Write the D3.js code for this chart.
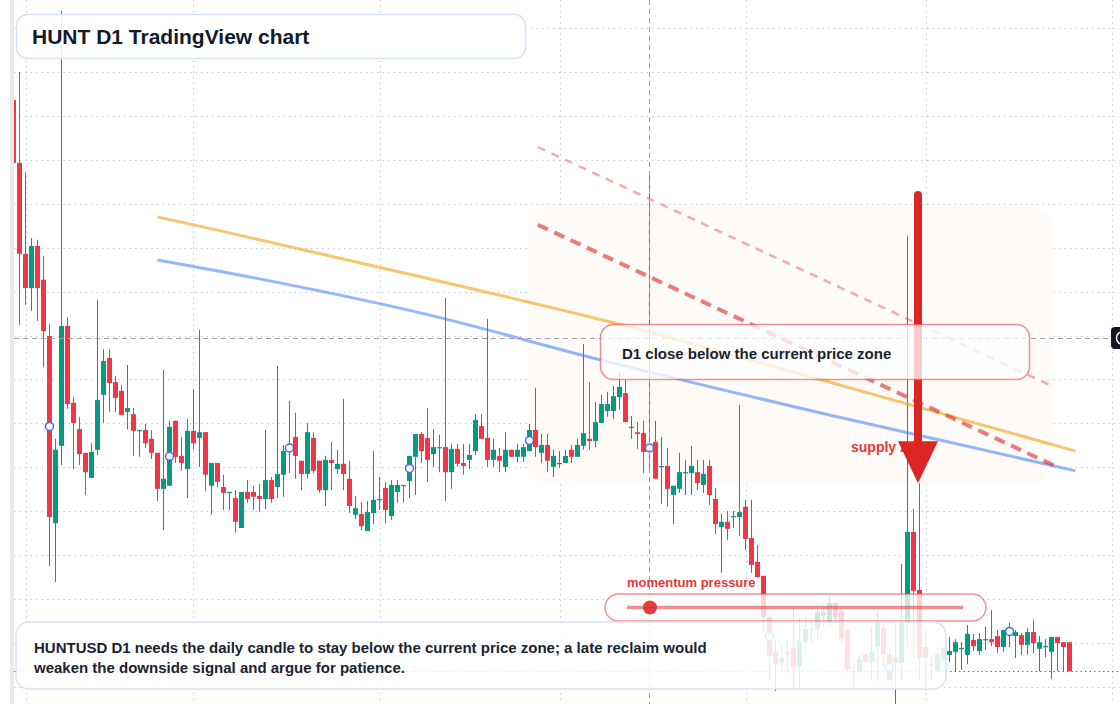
<!DOCTYPE html>
<html>
<head>
<meta charset="utf-8">
<script src="https://cdn.jsdelivr.net/npm/d3@7"></script>
<style>
  html, body { margin: 0; padding: 0; background: #fff; }
  svg { display: block; font-family: "Liberation Sans", Arial, sans-serif; }
</style>
</head>
<body>
<div id="chart"></div>
<script>
// daily candles, first one is 30 Jan 2025
const startDate = Date.UTC(2025, 0, 30)
const DAY = 864e5

const open = [
  0.3536, 0.3393, 0.3186, 0.3108, 0.3204, 0.3127, 0.2999, 0.2573, 0.2749, 0.3022,
  0.2847, 0.2787, 0.2733, 0.2676, 0.2740, 0.2865, 0.2949, 0.2894, 0.2874, 0.2826,
  0.2821, 0.2783, 0.2785, 0.2765, 0.2733, 0.2651, 0.2658, 0.2806, 0.2726, 0.2696,
  0.2783, 0.2767, 0.2780, 0.2658, 0.2710, 0.2655, 0.2642, 0.2630, 0.2562, 0.2644,
  0.2644, 0.2635, 0.2628, 0.2671, 0.2655, 0.2683, 0.2735, 0.2769, 0.2715, 0.2685,
  0.2767, 0.2715, 0.2648, 0.2717, 0.2696, 0.2708, 0.2674, 0.2592, 0.2594, 0.2555,
  0.2596, 0.2626, 0.2653, 0.2589, 0.2644, 0.2660, 0.2669, 0.2724, 0.2776, 0.2767,
  0.2730, 0.2745, 0.2746, 0.2689, 0.2742, 0.2710, 0.2717, 0.2737, 0.2794, 0.2767,
  0.2717, 0.2726, 0.2701, 0.2740, 0.2724, 0.2724, 0.2737, 0.2785, 0.2733, 0.2751,
  0.2701, 0.2709, 0.2710, 0.2740, 0.2724, 0.2749, 0.2765, 0.2760, 0.2801, 0.2828,
  0.2828, 0.2860, 0.2869, 0.2791, 0.2780, 0.2778, 0.2735, 0.2758, 0.2702, 0.2703,
  0.2637, 0.2651, 0.2688, 0.2687, 0.2689, 0.2660, 0.2703, 0.2628, 0.2564, 0.2576,
  0.2588, 0.2587, 0.2610, 0.2539, 0.2485, 0.2453, 0.2359, 0.2280, 0.2255, 0.2280,
  0.2289, 0.2246, 0.2302, 0.2331, 0.2332, 0.2371, 0.2348, 0.2391, 0.2373, 0.2332,
  0.2235, 0.2234, 0.2275, 0.2257, 0.2291, 0.2334, 0.2273, 0.2255, 0.2255, 0.2346,
  0.2553, 0.2421, 0.2291, 0.2252, 0.2236, 0.2261, 0.2273, 0.2280, 0.2288, 0.2273,
  0.2307, 0.2282, 0.2308, 0.2309, 0.2316, 0.2291, 0.2323, 0.2316, 0.2318, 0.2296,
  0.2325, 0.2287, 0.2292, 0.2280, 0.2314, 0.2302, 0.2302
]
const high = [
  0.3541, 0.3600, 0.3372, 0.3222, 0.3218, 0.3181, 0.3026, 0.2765, 0.3739, 0.3042,
  0.2860, 0.2815, 0.2733, 0.2755, 0.3081, 0.2969, 0.2969, 0.2908, 0.2887, 0.2933,
  0.2835, 0.2785, 0.2799, 0.2785, 0.2733, 0.2922, 0.2806, 0.2806, 0.2769, 0.2810,
  0.2878, 0.3013, 0.2780, 0.2710, 0.2710, 0.2683, 0.2644, 0.2648, 0.2644, 0.2671,
  0.2658, 0.2662, 0.2785, 0.2678, 0.2931, 0.2751, 0.2851, 0.2824, 0.2715, 0.2801,
  0.2780, 0.2715, 0.2726, 0.2758, 0.2740, 0.2856, 0.2715, 0.2635, 0.2621, 0.2623,
  0.2737, 0.2678, 0.2667, 0.2671, 0.2671, 0.2660, 0.2726, 0.2776, 0.2780, 0.2835,
  0.2787, 0.2774, 0.3086, 0.2753, 0.2753, 0.2753, 0.2753, 0.2821, 0.2821, 0.3038,
  0.2765, 0.2744, 0.2780, 0.2740, 0.2753, 0.2753, 0.2799, 0.2881, 0.2776, 0.2776,
  0.2740, 0.2737, 0.2740, 0.2751, 0.2765, 0.2981, 0.2894, 0.2849, 0.2865, 0.2872,
  0.2885, 0.2917, 0.2899, 0.2817, 0.2803, 0.2806, 0.3366, 0.2806, 0.2769, 0.2744,
  0.2658, 0.2733, 0.2717, 0.2749, 0.2717, 0.2717, 0.2717, 0.2653, 0.2594, 0.2601,
  0.2601, 0.2842, 0.2626, 0.2626, 0.2523, 0.2453, 0.2364, 0.2307, 0.2296, 0.2307,
  0.2380, 0.2357, 0.2357, 0.2346, 0.2384, 0.2382, 0.2409, 0.2391, 0.2380, 0.2332,
  0.2255, 0.2273, 0.2275, 0.2337, 0.2373, 0.2353, 0.2291, 0.2348, 0.2480, 0.3227,
  0.2605, 0.2664, 0.2330, 0.2268, 0.2289, 0.2291, 0.2314, 0.2309, 0.2302, 0.2341,
  0.2321, 0.2323, 0.2337, 0.2375, 0.2330, 0.2330, 0.2346, 0.2330, 0.2323, 0.2334,
  0.2353, 0.2316, 0.2309, 0.2314, 0.2314, 0.2302, 0.2302
]
const low = [
  0.3388, 0.3024, 0.3070, 0.3056, 0.3033, 0.2928, 0.2475, 0.2439, 0.2705, 0.2833,
  0.2696, 0.2705, 0.2637, 0.2676, 0.2728, 0.2801, 0.2826, 0.2826, 0.2819, 0.2787,
  0.2726, 0.2724, 0.2744, 0.2719, 0.2623, 0.2557, 0.2658, 0.2710, 0.2692, 0.2630,
  0.2740, 0.2701, 0.2646, 0.2592, 0.2655, 0.2603, 0.2603, 0.2551, 0.2562, 0.2619,
  0.2603, 0.2598, 0.2605, 0.2619, 0.2630, 0.2633, 0.2687, 0.2674, 0.2648, 0.2674,
  0.2687, 0.2642, 0.2612, 0.2648, 0.2685, 0.2648, 0.2596, 0.2582, 0.2557, 0.2555,
  0.2571, 0.2603, 0.2573, 0.2580, 0.2619, 0.2619, 0.2630, 0.2637, 0.2710, 0.2667,
  0.2701, 0.2689, 0.2623, 0.2651, 0.2701, 0.2683, 0.2696, 0.2728, 0.2765, 0.2701,
  0.2701, 0.2689, 0.2689, 0.2724, 0.2712, 0.2712, 0.2737, 0.2724, 0.2710, 0.2689,
  0.2678, 0.2699, 0.2710, 0.2710, 0.2724, 0.2740, 0.2740, 0.2746, 0.2801, 0.2815,
  0.2810, 0.2831, 0.2803, 0.2765, 0.2742, 0.2687, 0.2694, 0.2674, 0.2617, 0.2610,
  0.2571, 0.2642, 0.2637, 0.2637, 0.2648, 0.2642, 0.2614, 0.2548, 0.2460, 0.2535,
  0.2562, 0.2544, 0.2512, 0.2460, 0.2450, 0.2325, 0.2218, 0.2191, 0.2234, 0.2232,
  0.2198, 0.2198, 0.2277, 0.2302, 0.2309, 0.2337, 0.2337, 0.2348, 0.2298, 0.2232,
  0.2200, 0.2232, 0.2257, 0.2216, 0.2216, 0.2246, 0.2216, 0.2161, 0.2216, 0.2293,
  0.2268, 0.2216, 0.2193, 0.2216, 0.2234, 0.2261, 0.2257, 0.2234, 0.2239, 0.2252,
  0.2282, 0.2273, 0.2284, 0.2293, 0.2277, 0.2280, 0.2291, 0.2266, 0.2273, 0.2273,
  0.2277, 0.2236, 0.2268, 0.2218, 0.2236, 0.2236, 0.2236
]
const close = [
  0.3393, 0.3186, 0.3108, 0.3204, 0.3108, 0.3010, 0.2587, 0.2740, 0.3022, 0.2844,
  0.2801, 0.2730, 0.2689, 0.2735, 0.2853, 0.2942, 0.2892, 0.2858, 0.2819, 0.2835,
  0.2783, 0.2785, 0.2755, 0.2733, 0.2651, 0.2674, 0.2792, 0.2724, 0.2710, 0.2783,
  0.2755, 0.2780, 0.2683, 0.2710, 0.2667, 0.2642, 0.2644, 0.2576, 0.2644, 0.2628,
  0.2633, 0.2628, 0.2671, 0.2628, 0.2685, 0.2737, 0.2753, 0.2726, 0.2685, 0.2780,
  0.2692, 0.2648, 0.2717, 0.2710, 0.2708, 0.2685, 0.2612, 0.2607, 0.2566, 0.2598,
  0.2626, 0.2628, 0.2603, 0.2660, 0.2660, 0.2658, 0.2726, 0.2776, 0.2737, 0.2717,
  0.2746, 0.2746, 0.2689, 0.2742, 0.2708, 0.2703, 0.2728, 0.2808, 0.2765, 0.2717,
  0.2740, 0.2715, 0.2740, 0.2724, 0.2740, 0.2746, 0.2785, 0.2746, 0.2751, 0.2715,
  0.2726, 0.2710, 0.2726, 0.2724, 0.2751, 0.2778, 0.2760, 0.2803, 0.2844, 0.2844,
  0.2862, 0.2883, 0.2803, 0.2792, 0.2776, 0.2735, 0.2753, 0.2674, 0.2703, 0.2651,
  0.2658, 0.2689, 0.2689, 0.2703, 0.2664, 0.2685, 0.2637, 0.2571, 0.2576, 0.2560,
  0.2589, 0.2598, 0.2537, 0.2478, 0.2450, 0.2359, 0.2271, 0.2252, 0.2266, 0.2273,
  0.2246, 0.2305, 0.2332, 0.2332, 0.2371, 0.2362, 0.2391, 0.2357, 0.2309, 0.2241,
  0.2236, 0.2264, 0.2257, 0.2280, 0.2348, 0.2273, 0.2216, 0.2268, 0.2348, 0.2553,
  0.2419, 0.2266, 0.2266, 0.2248, 0.2275, 0.2289, 0.2282, 0.2302, 0.2289, 0.2321,
  0.2293, 0.2309, 0.2309, 0.2302, 0.2291, 0.2330, 0.2330, 0.2325, 0.2296, 0.2325,
  0.2300, 0.2302, 0.2293, 0.2314, 0.2300, 0.2291, 0.2236
]

// candle index where the blue ring markers sit
const markerIdx = [6, 26, 46, 66, 86, 106, 126, 146, 166]

// [candle index, price] points
const maOrange = [[24, 0.3270], [34, 0.3240], [70, 0.3127], [100, 0.3029], [136, 0.2894], [177, 0.2737]]
const maBlue = [[24, 0.3172], [41, 0.3129], [68, 0.3051], [98, 0.2944], [136, 0.2819], [177, 0.2692]]

// dashed resistance lines
const trendUpper = [[87.4, 0.3429], [173.1, 0.2885]]
const trendLower = [[87.4, 0.3252], [173.6, 0.2703]]

const supplyZone = { from: 85.6, to: 173.1, top: 0.3293, bottom: 0.2664 }
const arrowMark = { at: 150.75, from: 0.3320, to: 0.2664 }
const crosshair = { at: 106, price: 0.2995 }

const priceTicks = [0.22, 0.23, 0.24, 0.25, 0.26, 0.27, 0.28, 0.29, 0.30, 0.31, 0.32, 0.33, 0.34, 0.35, 0.36, 0.37]

const width = 1120
const height = 704
const green = '#089981'
const red = '#f23645'

const svg = d3.select('#chart')
    .append('svg')
    .attr('width', width)
    .attr('height', height)

const x = d3.scaleUtc()
    .domain([new Date(startDate), new Date(Date.UTC(2025, 7, 1))])
    .range([13.5, 1111.5])
const y = d3.scaleLinear()
    .domain([0.22, 0.37])
    .range([687, 28])
const xi = i => x(new Date(startDate + i * DAY))

const candles = open.map((o, i) => ({ i: i, o: o, h: high[i], l: low[i], c: close[i] }))

svg.append('rect').attr('width', width).attr('height', height).attr('fill', '#fff')
svg.append('rect').attr('x', 10).attr('width', 4).attr('height', height).attr('fill', '#e9e9ea')

svg.append('clipPath').attr('id', 'plot')
    .append('rect').attr('x', 14).attr('y', 0).attr('width', width - 14).attr('height', height)

const plot = svg.append('g').attr('clip-path', 'url(#plot)')

// grid
plot.append('g')
    .selectAll('line')
    .data(x.ticks(d3.utcMonth.every(1)))
    .join('line')
    .attr('x1', d => Math.round(x(d)) + 0.5)
    .attr('x2', d => Math.round(x(d)) + 0.5)
    .attr('y1', 0)
    .attr('y2', height)
    .attr('stroke', '#c9ccd2')
    .attr('stroke-dasharray', '1.5 4')

plot.append('g')
    .selectAll('line')
    .data(priceTicks)
    .join('line')
    .attr('x1', 14)
    .attr('x2', width)
    .attr('y1', d => Math.round(y(d)) + 0.5)
    .attr('y2', d => Math.round(y(d)) + 0.5)
    .attr('stroke', '#c9ccd2')
    .attr('stroke-dasharray', '1.5 4')

// supply zone shading
plot.append('rect')
    .attr('x', xi(supplyZone.from))
    .attr('y', y(supplyZone.top))
    .attr('width', xi(supplyZone.to) - xi(supplyZone.from))
    .attr('height', y(supplyZone.bottom) - y(supplyZone.top))
    .attr('rx', 20)
    .attr('fill', '#fefbf8')

// candles
const candle = plot.append('g')
    .selectAll('g')
    .data(candles)
    .join('g')

candle.append('line')
    .attr('x1', d => xi(d.i))
    .attr('x2', d => xi(d.i))
    .attr('y1', d => y(d.h))
    .attr('y2', d => y(d.l))
    .attr('stroke', d => d.c >= d.o ? green : red)
    .attr('stroke-width', 1)

candle.append('rect')
    .attr('x', d => xi(d.i) - 2.5)
    .attr('width', 5)
    .attr('y', d => y(Math.max(d.o, d.c)))
    .attr('height', d => Math.max(1.2, Math.abs(y(d.o) - y(d.c))))
    .attr('fill', d => d.c >= d.o ? green : red)

// moving averages
const line = d3.line()
    .x(d => xi(d[0]))
    .y(d => y(d[1]))
    .curve(d3.curveMonotoneX)

plot.append('path')
    .attr('d', line(maOrange))
    .attr('fill', 'none')
    .attr('stroke', '#f59e0b')
    .attr('stroke-opacity', 0.6)
    .attr('stroke-width', 3)

plot.append('path')
    .attr('d', line(maBlue))
    .attr('fill', 'none')
    .attr('stroke', '#3b7bf6')
    .attr('stroke-opacity', 0.55)
    .attr('stroke-width', 3)

plot.append('path')
    .attr('d', line(trendUpper))
    .attr('fill', 'none')
    .attr('stroke', '#ef4444')
    .attr('stroke-opacity', 0.45)
    .attr('stroke-width', 2.5)
    .attr('stroke-dasharray', '8 7')

plot.append('path')
    .attr('d', line(trendLower))
    .attr('fill', 'none')
    .attr('stroke', '#dc2626')
    .attr('stroke-opacity', 0.6)
    .attr('stroke-width', 4)
    .attr('stroke-dasharray', '11 7')

// markers
plot.append('g')
    .selectAll('circle')
    .data(markerIdx)
    .join('circle')
    .attr('cx', i => xi(i))
    .attr('cy', i => y((open[i] + close[i]) / 2))
    .attr('r', 4)
    .attr('fill', '#fff')
    .attr('stroke', '#3a6df0')
    .attr('stroke-width', 1.5)

// last price line
plot.append('line')
    .attr('x1', 14).attr('x2', width)
    .attr('y1', Math.round(y(close[close.length - 1])) + 0.5)
    .attr('y2', Math.round(y(close[close.length - 1])) + 0.5)
    .attr('stroke', red)
    .attr('stroke-dasharray', '1.5 3')

// crosshair
plot.append('line')
    .attr('x1', 14).attr('x2', 1110)
    .attr('y1', Math.round(y(crosshair.price)) + 0.5)
    .attr('y2', Math.round(y(crosshair.price)) + 0.5)
    .attr('stroke', '#9a9da3')
    .attr('stroke-dasharray', '5 4')

plot.append('line')
    .attr('x1', Math.floor(xi(crosshair.at)) + 0.5)
    .attr('x2', Math.floor(xi(crosshair.at)) + 0.5)
    .attr('y1', 0).attr('y2', height)
    .attr('stroke', '#9a9da3')
    .attr('stroke-dasharray', '5 4')

svg.append('rect')
    .attr('x', 1111).attr('y', 327).attr('width', 24).attr('height', 22).attr('rx', 4)
    .attr('fill', '#131722')
svg.append('circle')
    .attr('cx', 1123).attr('cy', 338).attr('r', 6.5)
    .attr('fill', 'none').attr('stroke', '#fff').attr('stroke-width', 1.5)

// supply zone label, partly hidden by the arrow head
svg.append('text')
    .text('supply zone')
    .attr('x', 851)
    .attr('y', 452)
    .style('font-size', '14px')
    .style('font-weight', 'bold')
    .style('fill', '#e5383b')

// arrow
const ax = xi(arrowMark.at)
const tipY = y(arrowMark.to)
svg.append('line')
    .attr('x1', ax).attr('x2', ax)
    .attr('y1', y(arrowMark.from))
    .attr('y2', tipY - 30)
    .attr('stroke', '#dc2626')
    .attr('stroke-width', 8)
    .attr('stroke-linecap', 'round')
svg.append('path')
    .attr('d', `M${ax - 20},${tipY - 42} L${ax + 20},${tipY - 42} L${ax},${tipY} Z`)
    .attr('fill', '#dc2626')

// annotation boxes
function box(x0, y0, w, h, r, stroke, fillOpacity) {
    return svg.append('rect')
        .attr('x', x0).attr('y', y0).attr('width', w).attr('height', h).attr('rx', r)
        .attr('fill', '#fff')
        .attr('fill-opacity', fillOpacity)
        .attr('stroke', stroke)
        .attr('stroke-width', 1.5)
}

box(16.5, 14.5, 509, 44, 11, '#d5e2f6', 0.9)
svg.append('text')
    .text('HUNT D1 TradingView chart')
    .attr('x', 32)
    .attr('y', 43.5)
    .style('font-size', '21px')
    .style('font-weight', 'bold')
    .style('fill', '#131a29')

box(600.5, 324.5, 429, 55, 13, 'rgba(230, 70, 70, 0.6)', 0.76)
svg.append('text')
    .text('D1 close below the current price zone')
    .attr('x', 622)
    .attr('y', 359)
    .style('font-size', '15px')
    .style('font-weight', 'bold')
    .style('fill', '#1b2230')

box(605, 594, 381, 27, 13.5, 'rgba(230, 70, 70, 0.6)', 0.78)
svg.append('line')
    .attr('x1', 627).attr('x2', 963)
    .attr('y1', 607.5).attr('y2', 607.5)
    .attr('stroke', '#e04848')
    .attr('stroke-opacity', 0.6)
    .attr('stroke-width', 3.5)
svg.append('circle')
    .attr('cx', 650).attr('cy', 607.5).attr('r', 7)
    .attr('fill', '#e0302f')
    .attr('fill-opacity', 0.92)
svg.append('text')
    .text('momentum pressure')
    .attr('x', 627)
    .attr('y', 587)
    .style('font-size', '13px')
    .style('font-weight', 'bold')
    .style('fill', '#e5383b')

box(16, 622, 930, 67, 13, '#d5e2f6', 0.86)
svg.append('text')
    .text('HUNTUSD D1 needs the daily candle to stay below the current price zone; a late reclaim would')
    .attr('x', 34)
    .attr('y', 653)
    .style('font-size', '15px')
    .style('font-weight', 'bold')
    .style('fill', '#1b2230')
svg.append('text')
    .text('weaken the downside signal and argue for patience.')
    .attr('x', 34)
    .attr('y', 673)
    .style('font-size', '15px')
    .style('font-weight', 'bold')
    .style('fill', '#1b2230')
</script>
</body>
</html>
